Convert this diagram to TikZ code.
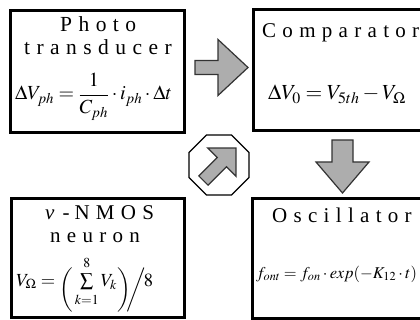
\documentclass[tikz,border=0pt]{standalone}
\usepackage{mathptmx}
\usepackage{fontspec}
\setmainfont{Liberation Serif}
\newfontfamily\spaced[LetterSpace=30]{Liberation Serif}
\usetikzlibrary{shapes.geometric}

\begin{document}
\begin{tikzpicture}[x=1pt, y=-1pt,
  box/.style={draw, line width=3pt, inner sep=0pt},
  blockarrow/.style={draw=black!80, fill=black!32, line width=1.2pt, line join=miter},
  title/.style={anchor=base west, inner sep=0pt, font=\fontsize{21}{24}\spaced},
  formula/.style={anchor=base west, inner sep=0pt, font=\fontsize{17}{20}\selectfont}]
  % 枠
  \fill[white] (0,0) rectangle (420,320);
  \useasboundingbox (0,0) rectangle (420,320);
  \clip (0,0) rectangle (420,320);

  % ブロック
  \node[box, minimum width=174pt, minimum height=122pt] (photo) at (97.5,71.4) {};
  \node[box, minimum width=187pt, minimum height=121pt] (comp) at (346.7,70.5) {};
  \node[box, minimum width=173pt, minimum height=119pt] (nmos) at (97.7,258.3) {};
  \node[box, minimum width=188pt, minimum height=119pt] (osc) at (346,258.5) {};

  % 見出し
  \node[title, font=\fontsize{21.5}{24}\spaced] (photoA) at (60,32) {Photo};
  \node[title, font=\fontsize{21.5}{24}\spaced] (photoB) at (24,55) {transducer};
  \node[title] (compA) at (262,38) {Comparator};
  \node[title] (nmosA) at (45,220) {{\itshape v}\hspace{8pt}-\hspace{5pt}NMOS};
  \node[title] (nmosB) at (50,243) {neuron};
  \node[title] (oscA) at (272,223) {Oscillator};

  % 式
  \node[formula, font=\fontsize{20}{24}\selectfont] (photoF) at (15,100)
    {$\Delta V_{ph}=\displaystyle\frac{1}{C_{ph}}\cdot i_{ph}\cdot\Delta t$};
  \node[formula, font=\fontsize{21.5}{24}\selectfont] (compF) at (268,100)
    {$\Delta V_0=V_{5th}-V_\Omega$};
  \node[formula, font=\fontsize{18.5}{22}\selectfont] (nmosF) at (16,286)
    {$V_\Omega=\raisebox{-9pt}{$\bigg($}\sum\limits_{\rule{0pt}{12pt}k=1}^{8\rule[-4pt]{0pt}{4pt}}V_k
      \raisebox{-9pt}{$\bigg)$}\!\!\raisebox{-9pt}{$\bigg/$}\!8$};
  \node[formula, font=\fontsize{16.5}{20}\selectfont] (oscF) at (256,278)
    {$f_{ont}=f_{on}\cdot exp(-K_{12}\cdot t)$};

  % 矢印
  \draw[blockarrow] (195,60.5) -- (218,60.5) -- (218,39.5) -- (248,67.5)
    -- (218,95.5) -- (218,74.5) -- (195,74.5) -- cycle;
  \draw[blockarrow] (332,140) -- (353,140) -- (353,162) -- (369,162)
    -- (342.5,193) -- (316,162) -- (332,162) -- cycle;

  % 中央の八角形
  \node[regular polygon, regular polygon sides=8, draw, line width=1.3pt,
    fill=white, inner sep=0pt, minimum size=65pt] (hub) at (219,165) {};
  \begin{scope}[shift={(hub.center)}, rotate=45]
    \draw[blockarrow] (-22,-6.5) -- (4,-6.5) -- (4,-20) -- (24,0)
      -- (4,20) -- (4,6.5) -- (-22,6.5) -- cycle;
  \end{scope}
\end{tikzpicture}
\end{document}
